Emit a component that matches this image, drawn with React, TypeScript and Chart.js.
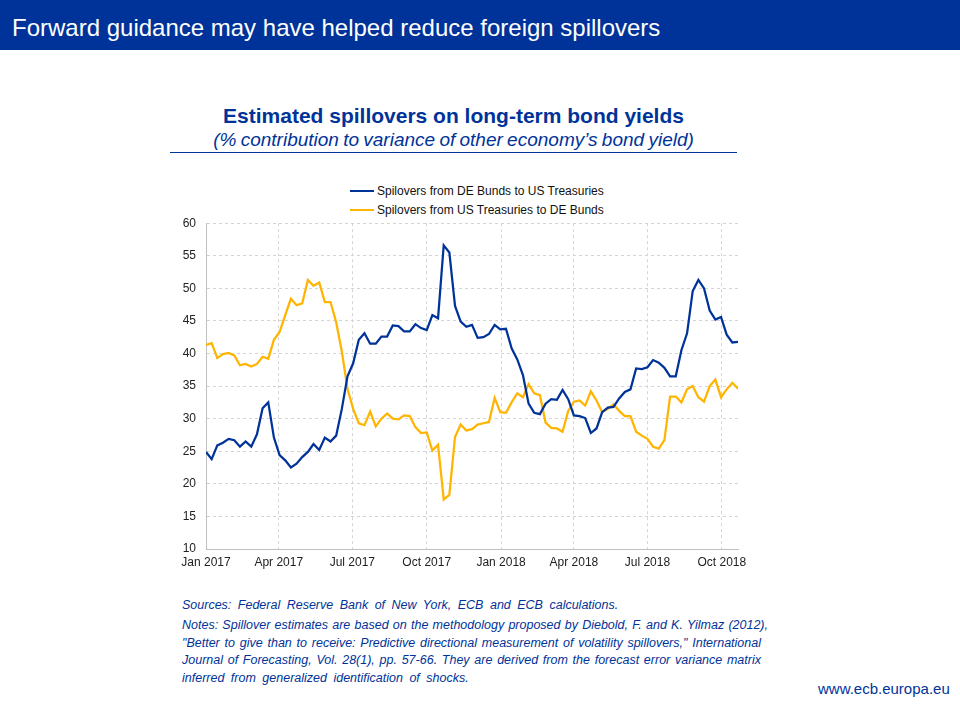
import React, { useEffect, useRef } from 'react';
import { Chart, registerables } from 'chart.js';

Chart.register(...registerables);

const FONT = '"Liberation Sans", Arial, sans-serif';
const ECB_BLUE = '#003399';
const YELLOW = '#FFB400';

// Weekly observations, first week starting 2017-01-01
const seriesStart = '2017-01-01';

const deToUs = [
  24.9, 23.8, 25.9, 26.3, 26.9, 26.7, 25.7, 26.5, 25.7, 27.6,
  31.6, 32.5, 27.1, 24.4, 23.6, 22.5, 23.1, 24.1, 24.9, 26.1,
  25.2, 27.1, 26.5, 27.4, 31.5, 36.5, 38.5, 42.1, 43.1, 41.5,
  41.5, 42.6, 42.6, 44.3, 44.2, 43.4, 43.4, 44.5, 43.9, 43.6,
  45.9, 45.4, 56.6, 55.5, 47.3, 44.9, 44.1, 44.4, 42.4, 42.5,
  43.0, 44.4, 43.7, 43.8, 40.8, 39.1, 36.7, 32.3, 30.9, 30.7,
  32.3, 33.0, 32.9, 34.4, 33.0, 30.5, 30.4, 30.1, 27.8, 28.5,
  31.0, 31.7, 31.8, 33.1, 34.1, 34.5, 37.7, 37.6, 37.9, 39.0,
  38.6, 37.8, 36.5, 36.5, 40.5, 43.1, 49.6, 51.3, 50.0, 46.6,
  45.2, 45.6, 42.9, 41.7, 41.8,
];

const usToDe = [
  41.3, 41.6, 39.3, 39.9, 40.1, 39.7, 38.2, 38.4, 38.0, 38.4,
  39.5, 39.2, 42.1, 43.3, 45.9, 48.4, 47.4, 47.7, 51.3, 50.4,
  50.9, 47.9, 47.9, 44.8, 40.3, 34.6, 31.5, 29.3, 29.0, 31.1,
  28.8, 30.0, 30.8, 30.0, 29.9, 30.5, 30.4, 28.7, 27.8, 27.9,
  25.1, 26.0, 17.6, 18.3, 27.2, 29.1, 28.2, 28.4, 29.1, 29.3,
  29.5, 33.2, 31.0, 30.9, 32.5, 33.9, 33.3, 35.3, 33.9, 33.6,
  29.4, 28.6, 28.5, 28.0, 31.2, 32.6, 32.8, 32.0, 34.2, 32.8,
  31.0, 31.5, 32.2, 31.2, 30.4, 30.4, 28.0, 27.4, 26.9, 25.7,
  25.4, 26.7, 33.4, 33.4, 32.5, 34.5, 35.0, 33.3, 32.6, 35.0,
  36.0, 33.3, 34.5, 35.5, 34.6,
];

const tickDates = [
  '2017-01-01', '2017-04-01', '2017-07-01', '2017-10-01',
  '2018-01-01', '2018-04-01', '2018-07-01', '2018-10-01',
];
const tickLabels = [
  'Jan 2017', 'Apr 2017', 'Jul 2017', 'Oct 2017',
  'Jan 2018', 'Apr 2018', 'Jul 2018', 'Oct 2018',
];

const yTicks = [10, 15, 20, 25, 30, 35, 40, 45, 50, 55, 60];

const seriesNames = [
  'Spilovers from DE Bunds to US Treasuries',
  'Spilovers from US Treasuries to DE Bunds',
];

const DAY = 86400000;
const dayOf = (s: string) =>
  (Date.parse(s + 'T00:00:00Z') - Date.parse(seriesStart + 'T00:00:00Z')) / DAY;

const toPoints = (arr: number[]) => arr.map((v, i) => ({ x: i * 7, y: v }));

function SpilloverChart() {
  const ref = useRef<HTMLCanvasElement | null>(null);
  useEffect(() => {
    if (!ref.current) return;
    const tickDays = tickDates.map(dayOf);
    const lastX = (deToUs.length - 1) * 7;
    const chart = new Chart(ref.current, {
      type: 'line',
      data: {
        datasets: [
          {
            label: seriesNames[0],
            data: toPoints(deToUs),
            borderColor: ECB_BLUE,
            backgroundColor: ECB_BLUE,
            borderWidth: 2.25,
            pointRadius: 0,
            tension: 0,
          },
          {
            label: seriesNames[1],
            data: toPoints(usToDe),
            borderColor: YELLOW,
            backgroundColor: YELLOW,
            borderWidth: 2.25,
            pointRadius: 0,
            tension: 0,
          },
        ],
      },
      options: {
        animation: false,
        responsive: false,
        maintainAspectRatio: false,
        layout: { padding: { top: 9, right: 22, left: 0, bottom: 0 } },
        plugins: {
          legend: { display: false },
          tooltip: { enabled: false },
        },
        scales: {
          x: {
            type: 'linear',
            min: 0,
            max: lastX,
            afterBuildTicks: (axis: any) => {
              axis.ticks = tickDays.map((v) => ({ value: v }));
            },
            afterFit: (axis: any) => {
              axis.height = 31;
            },
            ticks: {
              autoSkip: false,
              maxRotation: 0,
              padding: 6,
              color: '#222222',
              font: { family: FONT, size: 12 },
              callback: (value: any) => {
                const idx = tickDays.indexOf(Number(value));
                return idx >= 0 ? tickLabels[idx] : '';
              },
            },
            grid: {
              color: '#d4d4d4',
              lineWidth: 1,
              drawTicks: false,
            },
            border: { display: true, color: '#bfbfbf', width: 1, dash: [3, 3] },
          },
          y: {
            min: 10,
            max: 60,
            afterBuildTicks: (axis: any) => {
              axis.ticks = yTicks.map((v) => ({ value: v }));
            },
            afterFit: (axis: any) => {
              axis.width = 46;
            },
            ticks: {
              padding: 10,
              color: '#222222',
              font: { family: FONT, size: 12 },
            },
            grid: {
              color: '#d4d4d4',
              lineWidth: 1,
              drawTicks: false,
            },
            border: { display: true, color: '#bfbfbf', width: 1, dash: [3, 3] },
          },
        },
      },
    } as any);
    return () => chart.destroy();
  }, []);
  return <canvas ref={ref} width={600} height={374} style={{ width: 600, height: 374, display: 'block' }} />;
}

export default function App() {
  const abs = (s: React.CSSProperties): React.CSSProperties => ({ position: 'absolute', ...s });
  const noteStyle: React.CSSProperties = {
    position: 'absolute',
    left: 182,
    fontFamily: FONT,
    fontStyle: 'italic',
    fontSize: 12.5,
    wordSpacing: 3,
    color: ECB_BLUE,
    whiteSpace: 'nowrap',
    lineHeight: '15px',
  };
  const justified = (top: number, width: number, text: string) => (
    <div
      style={{
        ...noteStyle,
        top,
        width,
        wordSpacing: 0,
        textAlign: 'justify',
        textAlignLast: 'justify',
      }}
    >
      {text}
    </div>
  );
  return (
    <div style={abs({ left: 0, top: 0, width: 960, height: 720, background: '#ffffff', overflow: 'hidden' })}>
      <div style={abs({ left: 0, top: 0, width: 960, height: 50, background: ECB_BLUE })} />
      <div
        style={abs({
          left: 12,
          top: 14,
          color: '#ffffff',
          fontFamily: FONT,
          fontSize: 24,
          lineHeight: '28px',
          whiteSpace: 'nowrap',
        })}
      >
        Forward guidance may have helped reduce foreign spillovers
      </div>

      <div
        style={abs({
          left: 170,
          width: 567,
          top: 104,
          textAlign: 'center',
          color: ECB_BLUE,
          fontFamily: FONT,
          fontWeight: 'bold',
          fontSize: 21,
          lineHeight: '24px',
          whiteSpace: 'nowrap',
        })}
      >
        Estimated spillovers on long-term bond yields
      </div>
      <div
        style={abs({
          left: 170,
          width: 567,
          top: 129,
          textAlign: 'center',
          color: ECB_BLUE,
          fontFamily: FONT,
          fontStyle: 'italic',
          fontSize: 19,
          wordSpacing: -1,
          lineHeight: '22px',
          whiteSpace: 'nowrap',
        })}
      >
        (% contribution to variance of other economy’s bond yield)
      </div>
      <div style={abs({ left: 170, top: 152, width: 567, height: 1, background: ECB_BLUE })} />

      {/* legend */}
      <div style={abs({ left: 350, top: 190, width: 24, height: 2, background: ECB_BLUE })} />
      <div
        style={abs({ left: 377, top: 184, fontFamily: FONT, fontSize: 12, lineHeight: '14px', color: '#111', whiteSpace: 'nowrap' })}
      >
        {seriesNames[0]}
      </div>
      <div style={abs({ left: 350, top: 209, width: 24, height: 2, background: YELLOW })} />
      <div
        style={abs({ left: 377, top: 203, fontFamily: FONT, fontSize: 12, lineHeight: '14px', color: '#111', whiteSpace: 'nowrap' })}
      >
        {seriesNames[1]}
      </div>

      <div style={abs({ left: 160, top: 206, width: 600, height: 374 })}>
        <SpilloverChart />
      </div>

      <div style={{ ...noteStyle, top: 598 }}>
        Sources: Federal Reserve Bank of New York, ECB and ECB calculations.
      </div>
      {justified(618, 586, 'Notes: Spillover estimates are based on the methodology proposed by Diebold, F. and K. Yilmaz (2012),')}
      {justified(636, 579, '"Better to give than to receive: Predictive directional measurement of volatility spillovers," International')}
      {justified(653, 579, 'Journal of Forecasting, Vol. 28(1), pp. 57-66. They are derived from the forecast error variance matrix')}
      <div style={{ ...noteStyle, top: 671 }}>inferred from generalized identification of shocks.</div>

      <div
        style={abs({ left: 818, top: 680, fontFamily: FONT, fontSize: 15, lineHeight: '17px', color: ECB_BLUE, whiteSpace: 'nowrap' })}
      >
        www.ecb.europa.eu
      </div>
    </div>
  );
}
